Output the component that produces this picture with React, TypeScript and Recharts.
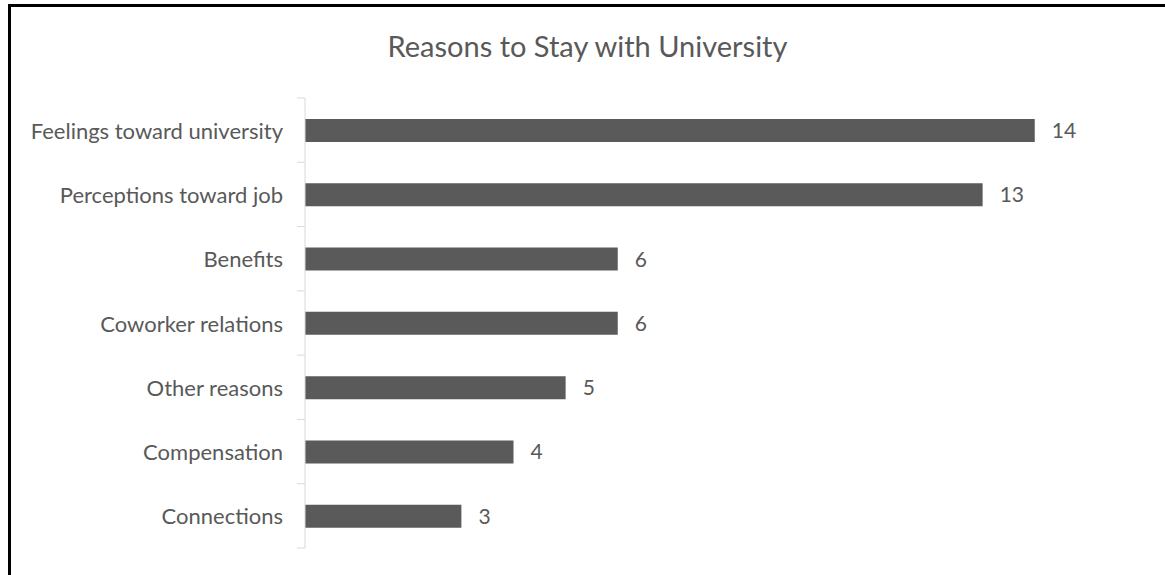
import React from "react";
import { BarChart, Bar, XAxis, YAxis, LabelList } from "recharts";

const categories = [
  "Feelings toward university",
  "Perceptions toward job",
  "Benefits",
  "Coworker relations",
  "Other reasons",
  "Compensation",
  "Connections",
];
const counts = [14, 13, 6, 6, 5, 4, 3];
const title = "Reasons to Stay with University";

const data = categories.map((name, i) => ({ name, value: counts[i] }));

const TEXT = "#595959";
const FONT = "Lato, 'Open Sans', sans-serif";

const Tick = (props: any) => {
  const { x, y, payload, index, visibleTicksCount } = props;
  const half = payload && typeof payload.offset === "number" ? payload.offset : 32;
  const lx1 = x + 14;
  const lx2 = x + 22;
  return (
    <g>
      <line x1={lx1} x2={lx2} y1={y - half} y2={y - half} stroke="#d9d9d9" strokeWidth={1} />
      {index === visibleTicksCount - 1 ? (
        <line x1={lx1} x2={lx2} y1={y + half} y2={y + half} stroke="#d9d9d9" strokeWidth={1} />
      ) : null}
      <text x={x} y={y} textAnchor="end" dominantBaseline="central" fill={TEXT} fontSize={22} fontFamily={FONT}>
        {payload.value}
      </text>
    </g>
  );
};

export default function App() {
  return (
    <div style={{ position: "absolute", left: 0, top: 0, width: 1165, height: 575, background: "#fff" }}>
      <div style={{ position: "absolute", left: 8, top: 4, width: 1157, height: 3, background: "#000" }} />
      <div style={{ position: "absolute", left: 8, top: 4, width: 3, height: 571, background: "#000" }} />
      <div
        style={{
          position: "absolute",
          left: 0,
          width: 1175,
          top: 31,
          textAlign: "center",
          fontFamily: FONT,
          fontSize: 29,
          lineHeight: "29px",
          color: TEXT,
        }}
      >
        {title}
      </div>
      <div style={{ position: "absolute", left: 0, top: 0 }}>
        <BarChart
          width={1165}
          height={575}
          data={data}
          layout="vertical"
          margin={{ top: 98, right: 26, bottom: 27, left: 0 }}
          barSize={23}
        >
          <XAxis type="number" hide domain={[0, 16]} />
          <YAxis
            type="category"
            dataKey="name"
            width={305}
            axisLine={{ stroke: "#d9d9d9", strokeWidth: 1 }}
            tickLine={false}
            tickSize={8}
            tickMargin={14}
            tick={<Tick />}
            interval={0}
          />
          <Bar dataKey="value" fill="#5a5a5a" isAnimationActive={false}>
            <LabelList
              dataKey="value"
              position="right"
              offset={17}
              fill={TEXT}
              fontSize={21}
              fontFamily={FONT}
            />
          </Bar>
        </BarChart>
      </div>
    </div>
  );
}
